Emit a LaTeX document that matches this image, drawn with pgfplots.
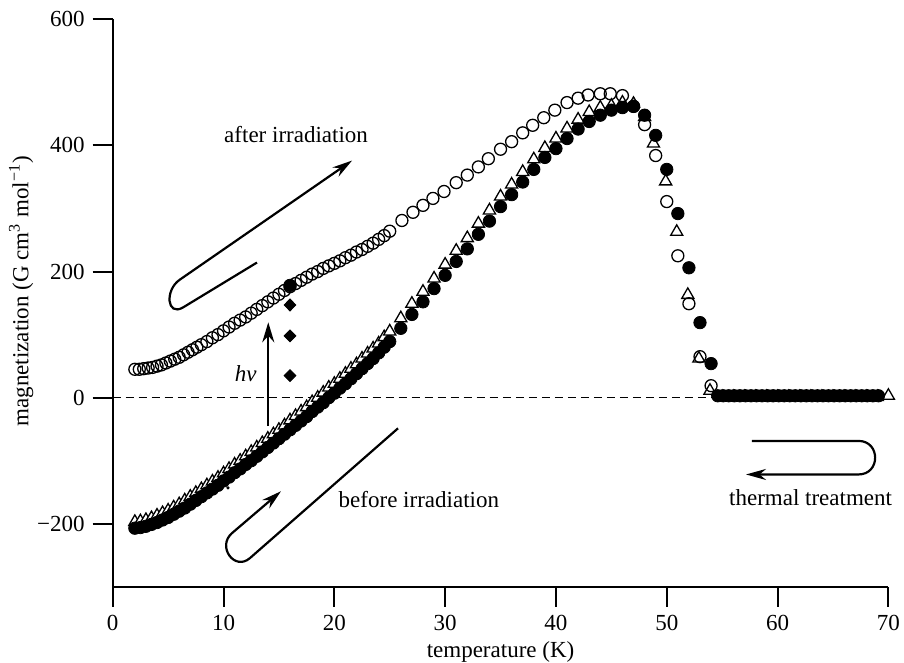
\documentclass[border=0pt]{standalone}
\usepackage{fontspec}
\setmainfont{Liberation Serif}
\usepackage{pgfplots}
\pgfplotsset{compat=1.18}
\usetikzlibrary{arrows.meta}

\begin{document}
\fontsize{11.5}{13.8}\selectfont
\begin{tikzpicture}
\begin{axis}[
  scale only axis, width=387.8pt, height=283.7pt,
  xmin=0, xmax=70, ymin=-300, ymax=600,
  axis x line=bottom, axis y line=left,
  axis line style={-, line width=1pt},
  tick align=outside, major tick length=10pt,
  tick style={line width=1pt, black},
  xtick={0,10,...,70},
  ytick={-200,0,200,400,600},
  yticklabels={−200,0,200,400,600},
  /pgf/number format/assume math mode=true,
  xlabel={temperature (K)},
  ylabel={magnetization (G cm\textsuperscript{3} mol\textsuperscript{−1})},
  xlabel style={at={(axis description cs:0.5,0)}, anchor=north, yshift=-23.4pt},
  ylabel style={at={(axis description cs:-0.0918,0.521)}, anchor=south},
  clip=false,
]
% zero line
\draw[dash pattern=on 4pt off 2.5pt, line width=0.6pt] (axis cs:0,0) -- (axis cs:54.3,0);

% triangles
\addplot[only marks, mark=triangle*, mark size=3.5pt,
  mark options={fill=white, draw=black, line width=0.65pt}] coordinates {
(2.0,-197)(2.5,-196)(3.0,-194)(3.5,-191)(4.0,-187)(4.5,-183)(5.0,-179)(5.5,-174)
(6.0,-169)(6.5,-163)(7.0,-157)(7.5,-151)(8.0,-145)(8.5,-139)(9.0,-133)(9.5,-127)
(10.0,-120)(10.5,-113)(11.0,-106)(11.5,-100)(12.0,-93)(12.5,-86)(13.0,-79)(13.5,-72)
(14.0,-65)(14.5,-58)(15.0,-51)(15.5,-44)(16.0,-36)(16.5,-29)(17.0,-22)(17.5,-15)
(18.0,-7)(18.5,0)(19.0,8)(19.5,16)(20.0,22)(20.5,30)(21.0,38)(21.5,46)
(22.0,53)(22.5,62)(23.0,70)(23.5,78)(24.0,86)(24.5,96)(25.0,105)
(26,126)(27,149)(28,168)(29,189)(30,211)(31,233)(32,253)(33,276)(34,297)(35,319)
(36,338)(37,358)(38,378)(39,396)(40,411)(41,427)(42,441)(43,453)(44,460)(45,463)
(46,468)(47,466)(48,445)(48.8,403)(49.9,343)(50.9,263)(51.9,163)(52.9,62)(53.9,11)
(55,1)(56,1)(57,1)(58,1)(59,1)(60,1)(61,1)(62,1)(63,1)(64,1)(65,1)(66,1)(67,1)(68,1)(69,1)(70,3)
};

% filled circles
\addplot[only marks, mark=*, mark size=3.1pt, mark options={fill=black, draw=black}] coordinates {
(2.0,-207)(2.5,-206)(3.0,-204)(3.5,-201)(4.0,-198)(4.5,-194)(5.0,-190)(5.5,-185)
(6.0,-180)(6.5,-175)(7.0,-169)(7.5,-163)(8.0,-157)(8.5,-151)(9.0,-145)(9.5,-139)
(10.0,-132)(10.5,-126)(11.0,-119)(11.5,-113)(12.0,-106)(12.5,-100)(13.0,-93)(13.5,-86)
(14.0,-79)(14.5,-72)(15.0,-65)(15.5,-58)(16.0,-51)(16.5,-44)(17.0,-37)(17.5,-30)
(18.0,-22)(18.5,-15)(19.0,-8)(19.5,0)(20.0,7)(20.5,15)(21.0,22)(21.5,30)
(22.0,38)(22.5,46)(23.0,54)(23.5,62)(24.0,71)(24.5,80)(25.0,89)
(26,110)(27,132)(28,152)(29,173)(30,194)(31,216)(32,236)(33,259)(34,280)(35,303)
(36,322)(37,342)(38,362)(39,381)(40,395)(41,411)(42,426)(43,438)(44,448)(45,456)
(46,460)(47,462)(48,448)(49,416)(50,362)(51,292)(52,206)(53,119)(54,54)
(54.6,3)(55.1,3)(55.6,3)(56.1,3)(56.6,3)(57.1,3)(57.6,3)(58.1,3)(58.6,3)(59.1,3)
(59.6,3)(60.1,3)(60.6,3)(61.1,3)(61.6,3)(62.1,3)(62.6,3)(63.1,3)(63.6,3)(64.1,3)
(64.6,3)(65.1,3)(65.6,3)(66.1,3)(66.6,3)(67.1,3)(67.6,3)(68.1,3)(68.6,3)(69.1,3)
};

% open circles
\addplot[only marks, mark=o, mark size=3.0pt, mark options={draw=black, fill=none, line width=0.65pt}] coordinates {
(2.0,45)(2.4,45)(2.8,46)(3.2,47)(3.6,48)(4.0,50)(4.4,52)(4.8,55)(5.2,58)(5.6,61)
(6.0,64)(6.4,68)(6.8,72)(7.2,76)(7.6,80)(8.0,84)(8.5,89)(9.0,95)(9.5,100)(10.0,106)
(10.5,112)(11.0,118)(11.5,123)(12.0,128)(12.5,134)(13.0,140)(13.5,146)(14.0,152)
(14.5,158)(15.0,164)(15.5,170)(16.0,176)(16.5,181)(17.0,186)(17.5,191)(18.0,196)
(18.5,200)(19.0,205)(19.5,209)(20.0,213)(20.5,217)(21.0,222)(21.5,226)(22.0,231)
(22.5,235)(23.0,240)(23.5,245)(24.0,251)(24.5,257)(25.0,264)
(26.1,281)(27.1,294)(28,305)(28.9,316)(29.9,327)(31,341)(32,353)(33,366)(33.9,379)
(35,394)(36,406)(37,420)(37.9,432)(38.9,444)(39.9,456)(41,468)(42,475)(42.9,480)
(44,482)(44.9,482)(46,479)(47,462)(48,433)(49,384)(50,311)(51,225)(52,149)(53,65)(54,19)
};

% points measured after the light pulses
\addplot[only marks, mark=*, mark size=3.1pt, mark options={fill=black}] coordinates {(16,178)};
\addplot[only marks, mark=diamond*, mark size=3.0pt, mark options={fill=black, xscale=1.3}] coordinates {
(16,147)(16,98)(16,35)
};
\addplot[only marks, mark=*, mark size=0.6pt] coordinates {(10.4,-143)};

% annotations
\draw[line width=1.1pt, -{Stealth[length=10pt,width=5.5pt]}]
  (axis cs:13.02,214.3) -- (axis cs:6.34,143)
  to[out=210,in=214,looseness=1.7] (axis cs:6.07,187.3) -- (axis cs:21.6,376);
\node[anchor=base] at (axis cs:16.55,404.3) {after irradiation};

\draw[line width=1.2pt, -{Stealth[length=10pt,width=6pt]}]
  (axis cs:14.04,-45) -- (axis cs:14.04,119.5);
\node[anchor=base] at (axis cs:12.0,26.3) {\textit{hν}};

\draw[line width=1.1pt, -{Stealth[length=10pt,width=5.5pt]}]
  (axis cs:25.75,-48.6) -- (axis cs:12.39,-254.4)
  to[out=221,in=220.6,looseness=1.7] (axis cs:10.77,-214.8) -- (axis cs:15.19,-148.4);
\node[anchor=base] at (axis cs:27.63,-173.6) {before irradiation};

\draw[line width=1.1pt, -{Stealth[length=10pt,width=5.5pt]}]
  (axis cs:57.68,-68.6) -- (axis cs:67.3,-68.6)
  to[out=0,in=0,looseness=1.7] (axis cs:67.3,-121.8) -- (axis cs:57.15,-121.8);
\node[anchor=base] at (axis cs:62.98,-171) {thermal treatment};

\coordinate (bbSW) at (axis cs:-10.17,-420.7);
\coordinate (bbNE) at (axis cs:71.41,630.7);
\end{axis}
\pgfresetboundingbox
\path (bbSW) rectangle (bbNE);
\end{tikzpicture}
\end{document}
